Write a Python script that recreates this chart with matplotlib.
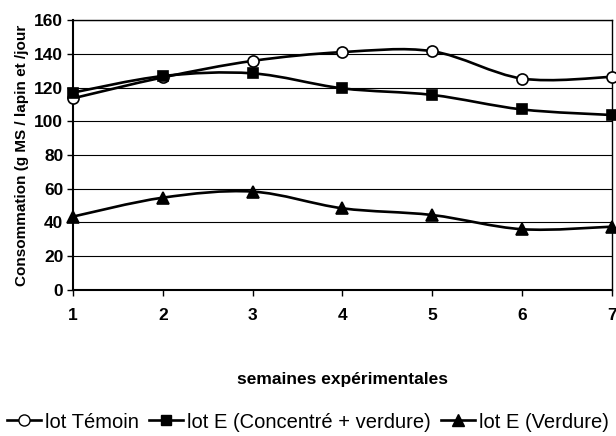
import numpy as np
import matplotlib
matplotlib.use("Agg")
import matplotlib.pyplot as plt
from matplotlib.path import Path
from matplotlib.patches import PathPatch
from matplotlib.lines import Line2D

plt.rcParams['font.family'] = ['Liberation Sans', 'DejaVu Sans']

# Data
semaines = [1, 2, 3, 4, 5, 6, 7]
temoin = [113.6, 126, 135.8, 141, 141.5, 125.3, 126.3]
concentre = [117, 126.8, 128.4, 119.5, 115.6, 107, 103.7]
verdure = [43.5, 54.7, 58.3, 48.4, 44.4, 36, 37.5]
labels = ['lot Témoin', 'lot E (Concentré + verdure)', 'lot E (Verdure)']
markers = ['o', 's', '^']
faces = ['white', 'black', 'black']


def smooth_path(x, y):
    # Excel-like smoothed line: Catmull-Rom as cubic beziers
    x = np.asarray(x, float)
    y = np.asarray(y, float)
    n = len(x)
    verts = [(x[0], y[0])]
    codes = [Path.MOVETO]
    for i in range(n - 1):
        x0, y0 = (x[i - 1], y[i - 1]) if i > 0 else (x[i], y[i])
        x3, y3 = (x[i + 2], y[i + 2]) if i + 2 < n else (x[i + 1], y[i + 1])
        c1 = (x[i] + (x[i + 1] - x0) / 6, y[i] + (y[i + 1] - y0) / 6)
        c2 = (x[i + 1] - (x3 - x[i]) / 6, y[i + 1] - (y3 - y[i]) / 6)
        verts += [c1, c2, (x[i + 1], y[i + 1])]
        codes += [Path.CURVE4] * 3
    return Path(verts, codes)


fig = plt.figure(figsize=(6.16, 4.36), dpi=100)
ax = fig.add_axes([0.1185, 0.335, 0.875, 0.619])

for serie, m, fc in zip([temoin, concentre, verdure], markers, faces):
    ax.add_patch(PathPatch(smooth_path(semaines, serie), facecolor='none',
                           edgecolor='black', lw=1.9, zorder=3, clip_on=False))
    ax.plot(semaines, serie, ls='none', marker=m, ms=8 if m != 's' else 7.5,
            mfc=fc, mec='black', mew=1.2, zorder=4, clip_on=False)

ax.set_xlim(1, 7)
ax.set_ylim(0, 160)
ax.set_yticks(range(0, 161, 20))
ax.set_xticks(semaines)
ax.grid(axis='y', color='black', lw=0.8)
ax.set_axisbelow(True)
for s in ax.spines.values():
    s.set_linewidth(1.0)
ax.spines['left'].set_linewidth(1.5)
ax.spines['bottom'].set_linewidth(1.5)
ax.tick_params(axis='both', direction='out', length=4, width=1, labelsize=12.5)
ax.tick_params(axis='x', pad=9)
ax.tick_params(axis='y', pad=3)
for t in ax.get_xticklabels() + ax.get_yticklabels():
    t.set_fontweight('bold')

ax.set_ylabel('Consommation (g MS / lapin et /jour', fontsize=11,
              fontweight='bold', labelpad=4)
ax.set_xlabel('semaines expérimentales', fontsize=12.5, fontweight='bold',
              labelpad=35)

handles = [Line2D([], [], color='black', lw=1.9, marker=m, mfc=fc, mec='black',
                  ms=8 if m != 's' else 7.5)
           for m, fc in zip(markers, faces)]
fig.legend(handles, labels, loc='center', bbox_to_anchor=(0.5, 0.032), ncol=3,
           frameon=False, fontsize=14.5, handlelength=1.7, handletextpad=0.2,
           columnspacing=0.5)

fig.savefig('out.png', dpi=100)
